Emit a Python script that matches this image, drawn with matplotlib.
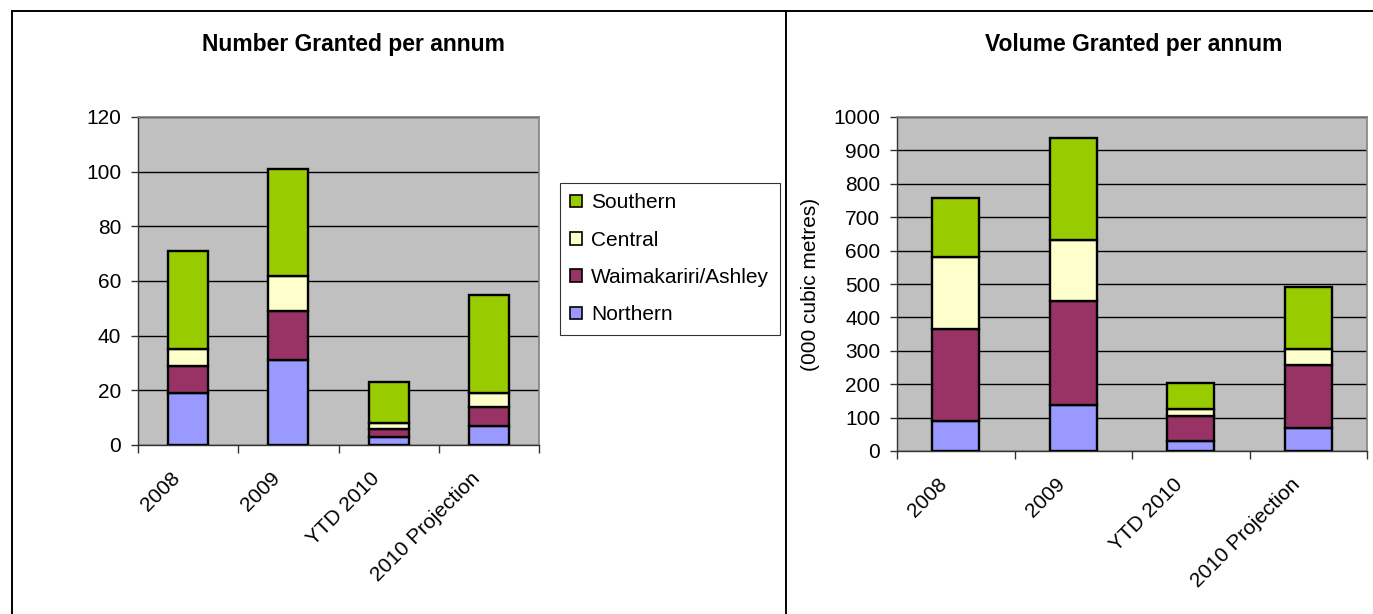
import matplotlib
matplotlib.use("Agg")
import matplotlib.pyplot as plt
import matplotlib.transforms as mtransforms
from matplotlib.lines import Line2D
from matplotlib.patches import Patch
import numpy as np

plt.rcParams['font.family'] = ['Liberation Sans', 'DejaVu Sans']

# ---- data ----
categories = ["2008", "2009", "YTD 2010", "2010 Projection"]
regions = ["Northern", "Waimakariri/Ashley", "Central", "Southern"]

number_northern = [19, 31, 3, 7]
number_waimakariri = [10, 18, 3, 7]
number_central = [6, 13, 2, 5]
number_southern = [36, 39, 15, 36]

volume_northern = [89, 138, 29, 70]
volume_waimakariri = [275, 310, 77, 186]
volume_central = [216, 185, 19, 48]
volume_southern = [177, 305, 78, 186]

number_ticks = [0, 20, 40, 60, 80, 100, 120]
volume_ticks = list(range(0, 1001, 100))

region_colors = ["#9999FF", "#993366", "#FFFFCC", "#99CC00"]

W, H = 1373, 614
fig = plt.figure(figsize=(W / 100, H / 100), dpi=100)
fig.patch.set_facecolor("white")


def px_rect(x0, y0, x1, y1):
    return [x0 / W, 1 - y1 / H, (x1 - x0) / W, (y1 - y0) / H]


def draw_stacked(ax, series, ticks):
    x = np.arange(len(categories))
    bottom = np.zeros(len(categories))
    for vals, col in zip(series, region_colors):
        ax.bar(x, vals, 0.4, bottom=bottom, color=col, edgecolor="black",
               linewidth=1.7, zorder=3)
        bottom += np.array(vals, dtype=float)
    ax.set_xlim(-0.5, len(categories) - 0.5)
    ax.set_ylim(ticks[0], ticks[-1])
    ax.set_yticks(ticks)
    ax.set_facecolor("#C0C0C0")
    ax.yaxis.grid(True, color="black", linewidth=1.0, zorder=1)
    ax.set_axisbelow(True)
    for side in ("top", "right"):
        ax.spines[side].set_color("#808080")
        ax.spines[side].set_linewidth(1.2)
    for side in ("left", "bottom"):
        ax.spines[side].set_color("#333333")
        ax.spines[side].set_linewidth(1.0)
    ax.tick_params(axis="y", direction="out", length=5, width=1,
                   color="#333333", labelsize=15, pad=7)
    # category labels at centres, tick marks at category boundaries
    ax.set_xticks(x)
    ax.set_xticks(np.arange(-0.5, len(categories), 1.0), minor=True)
    ax.tick_params(axis="x", which="major", length=0, pad=22, labelsize=15)
    ax.tick_params(axis="x", which="minor", length=6, width=1,
                   color="#333333", direction="out")
    ax.set_xticklabels(categories, rotation=45, rotation_mode="anchor",
                       ha="right", va="center")
    offset = mtransforms.ScaledTranslation(-0.115, 0, fig.dpi_scale_trans)
    for lbl in ax.get_xticklabels():
        lbl.set_transform(lbl.get_transform() + offset)


# left: number granted
ax1 = fig.add_axes(px_rect(138, 117, 539, 445))
draw_stacked(ax1, [number_northern, number_waimakariri, number_central,
                   number_southern], number_ticks)

# right: volume granted
ax2 = fig.add_axes(px_rect(897, 117, 1367, 451))
draw_stacked(ax2, [volume_northern, volume_waimakariri, volume_central,
                   volume_southern], volume_ticks)
ax2.set_ylabel("(000 cubic metres)", fontsize=15, labelpad=10)

# titles
fig.text(353 / W, 1 - 44 / H, "Number Granted per annum", ha="center",
         va="center", fontsize=16.5, fontweight="bold")
fig.text(1134 / W, 1 - 44 / H, "Volume Granted per annum", ha="center",
         va="center", fontsize=16.5, fontweight="bold")

# legend
handles = [Patch(facecolor=region_colors[i], edgecolor="black", linewidth=1.2)
           for i in (3, 2, 1, 0)]
labels = [regions[i] for i in (3, 2, 1, 0)]
leg = fig.legend(handles, labels, loc="upper left",
                 bbox_to_anchor=(560 / W, 1 - 183 / H), borderaxespad=0,
                 fontsize=15, frameon=True, fancybox=False, handlelength=0.55,
                 handleheight=0.55, handletextpad=0.45, labelspacing=0.88,
                 borderpad=0.5)
leg.get_frame().set_edgecolor("black")
leg.get_frame().set_linewidth(0.8)

# panel borders
def fig_line(x0, y0, x1, y1):
    fig.add_artist(Line2D([x0 / W, x1 / W], [1 - y0 / H, 1 - y1 / H],
                          color="black", linewidth=1.4))

fig_line(12, 11, W, 11)
fig_line(12, 11, 12, H)
fig_line(786, 11, 786, H)

fig.savefig("out.png", dpi=100, facecolor="white")
